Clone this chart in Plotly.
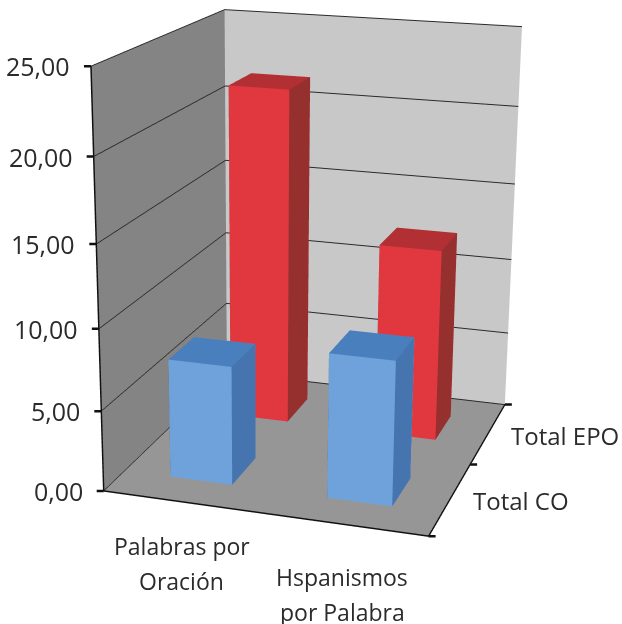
import numpy as np
import plotly.graph_objects as go

category_lines = [["Palabras por", "Oración"], ["Hspanismos", "por Palabra"]]
series_names = ["Total CO", "Total EPO"]
total_co = [7.4, 8.9]
total_epo = [21.6, 12.35]
z_ticks = [0, 5, 10, 15, 20, 25]
z_tick_labels = ["0,00", "5,00", "10,00", "15,00", "20,00", "25,00"]
edge_ticks = [-0.5, 0.5, 1.5]
category_drop = [44, 53]
category_nudge = [0, -2]

W, H = 622, 624
FOCAL = 1800
EYE = dict(x=1.2050, y=-3.9740, z=1.2183)
CENTER = dict(x=-0.0018, y=-0.0480, z=-0.1374)
UP = dict(x=0.2987, y=-0.9911, z=1)
ASPECT = dict(x=2 * 0.3901, y=2 * 0.4244, z=1)

# plotly's 3D camera has a fixed 45 degree field of view, so a long lens means a wide viewport
S = int(round(2 * FOCAL * np.tan(np.pi / 8)))
left, top = W / 2 - S / 2, H / 2 - S / 2

BAR_HALF = 0.2
BLUE = ("#6FA2DB", "#4574AE", "#4A7FBE")
RED = ("#E13840", "#96302F", "#B22F34")
WALL_LEFT, WALL_BACK, FLOOR = "#848484", "#C8C8C8", "#969696"
INK = "#111111"
FONT = dict(family="Open Sans", size=25, color="#2b2b2b")
LABEL = dict(FONT, size=23)
SERIES = dict(FONT, size=24)


def box(x, y, v, cols):
    """One bar as a cuboid: cols holds the front, side and top shades."""
    xs = [x - BAR_HALF, x + BAR_HALF]
    ys = [y - BAR_HALF, y + BAR_HALF]
    zs = [0, v]
    vx = [xs[i] for i in (0, 1, 1, 0, 0, 1, 1, 0)]
    vy = [ys[i] for i in (0, 0, 1, 1, 0, 0, 1, 1)]
    vz = [zs[i] for i in (0, 0, 0, 0, 1, 1, 1, 1)]
    I = [0, 0, 1, 1, 4, 4, 0, 0, 2, 2, 3, 3]
    J = [1, 5, 2, 6, 5, 6, 3, 7, 3, 7, 0, 4]
    K = [5, 4, 6, 5, 6, 7, 7, 4, 7, 6, 4, 7]
    fc = [cols[0]] * 2 + [cols[1]] * 2 + [cols[2]] * 2 + [cols[1]] * 2 + [cols[0]] * 2 + [cols[1]] * 2
    return go.Mesh3d(x=vx, y=vy, z=vz, i=I, j=J, k=K, facecolor=fc, flatshading=True,
                     lighting=dict(ambient=1, diffuse=0, specular=0, fresnel=0, roughness=1),
                     hoverinfo="skip", showscale=False)


def tick(x, y, z, ax, ay):
    return dict(x=x, y=y, z=z, text=" ", showarrow=True, arrowhead=0, arrowwidth=2.5, arrowcolor=INK,
                ax=ax, ay=ay, standoff=0)


def axis(ticks, bg):
    return dict(range=[ticks[0], ticks[-1]], tickvals=ticks, showticklabels=False, ticks="",
                showline=True, linecolor=INK, linewidth=3,
                showbackground=True, backgroundcolor=bg, showgrid=False, zeroline=False,
                title=dict(text=""), showspikes=False)


fig = go.Figure()
for i, v in enumerate(total_epo):
    fig.add_trace(box(i, 1, v, RED))
for i, v in enumerate(total_co):
    fig.add_trace(box(i, 0, v, BLUE))

ann = []
for v, t in zip(z_ticks, z_tick_labels):
    ann.append(dict(x=-0.5, y=-0.5, z=v, text=t, showarrow=False, xanchor="right", xshift=-19, font=FONT))
    ann.append(tick(-0.5, -0.5, v, -10, 0))
for i, lines in enumerate(category_lines):
    for n, t in enumerate(lines):
        ann.append(dict(x=i, y=-0.5, z=0, text=t, showarrow=False, yanchor="middle",
                        xshift=category_nudge[i], yshift=-category_drop[i] - 35 * n, font=LABEL))
for i, t in enumerate(series_names):
    ann.append(dict(x=1.5, y=i, z=0, text=t, showarrow=False, xanchor="left", xshift=21, yshift=-2, font=SERIES))
for v in edge_ticks:
    ann.append(tick(v, -0.5, 0, 0, 9))
    ann.append(tick(1.5, v, 0, 10, 0))

za = axis(z_ticks, FLOOR)
za.update(showgrid=True, gridcolor="#2a2a2a", gridwidth=2)

fig.update_layout(
    width=S, height=S, margin=dict(l=0, r=0, t=0, b=0), paper_bgcolor="white", showlegend=False,
    scene=dict(domain=dict(x=[0, 1], y=[0, 1]), xaxis=axis(edge_ticks, WALL_LEFT),
               yaxis=axis(edge_ticks, WALL_BACK), zaxis=za, annotations=ann,
               aspectmode="manual", aspectratio=ASPECT,
               camera=dict(eye=EYE, center=CENTER, up=UP, projection=dict(type="perspective"))))

# Centre the oversized scene on the page and keep the page itself from scrolling
place = ("var gd=document.getElementById('{plot_id}');gd.style.position='fixed';"
         f"gd.style.left='{left}px';gd.style.top='{top}px';gd.style.width='{S}px';gd.style.height='{S}px';"
         "document.documentElement.style.overflow='hidden';document.body.style.overflow='hidden';")
fig.write_html("out.html", config=dict(displayModeBar=False), post_script=place)
